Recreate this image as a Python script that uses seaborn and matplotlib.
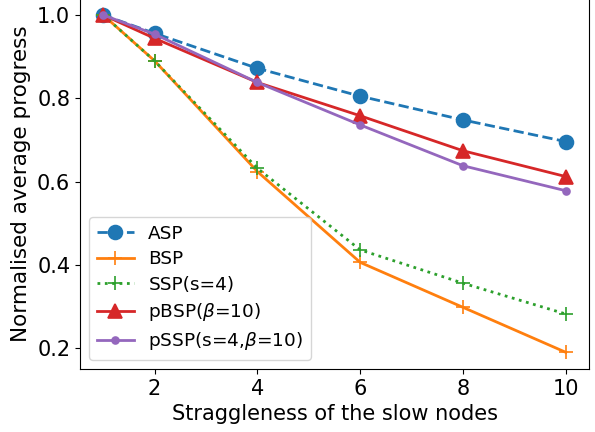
import matplotlib
matplotlib.use("Agg")
import matplotlib.pyplot as plt
import seaborn as sns
import pandas as pd

x = [1, 2, 4, 6, 8, 10]
asp = [1.0, 0.956, 0.872, 0.805, 0.748, 0.696]
bsp = [1.0, 0.890, 0.624, 0.406, 0.298, 0.190]
ssp = [1.0, 0.890, 0.632, 0.436, 0.356, 0.282]
pbsp = [1.0, 0.944, 0.838, 0.758, 0.674, 0.612]
pssp = [1.0, 0.954, 0.838, 0.736, 0.638, 0.578]

labels = ["ASP", "BSP", "SSP(s=4)", r"pBSP($\beta$=10)", r"pSSP(s=4,$\beta$=10)"]
series = [asp, bsp, ssp, pbsp, pssp]
colors = ["#1f77b4", "#ff7f0e", "#2ca02c", "#d62728", "#9467bd"]
markers = ["o", "+", "+", "^", "."]
linestyles = ["--", "-", ":", "-", "-"]
msizes = [10, 10, 10, 10, 10]

fig = plt.figure(figsize=(5.95, 4.32), dpi=100)
ax = fig.add_axes([80 / 595, 63 / 432, 509 / 595, (369 + 1.67) / 432])

for lab, ys, c, m, ls, ms in zip(labels, series, colors, markers, linestyles, msizes):
    df = pd.DataFrame({"x": x, "y": ys})
    sns.lineplot(data=df, x="x", y="y", ax=ax, color=c, marker=m, linestyle=ls,
                 markersize=ms, linewidth=2, label=lab, markeredgecolor=c,
                 markeredgewidth=1.2)

ax.set_ylim(0.15, 1.04)
ax.set_xticks([2, 4, 6, 8, 10])
ax.set_yticks([0.2, 0.4, 0.6, 0.8, 1.0])
ax.tick_params(labelsize=15)
ax.set_xlabel("Straggleness of the slow nodes", fontsize=15)
ax.set_ylabel("Normalised average progress", fontsize=15.5)
ax.legend(loc="lower left", fontsize=13.3, labelspacing=0.4)

fig.savefig("out.png", dpi=100)
